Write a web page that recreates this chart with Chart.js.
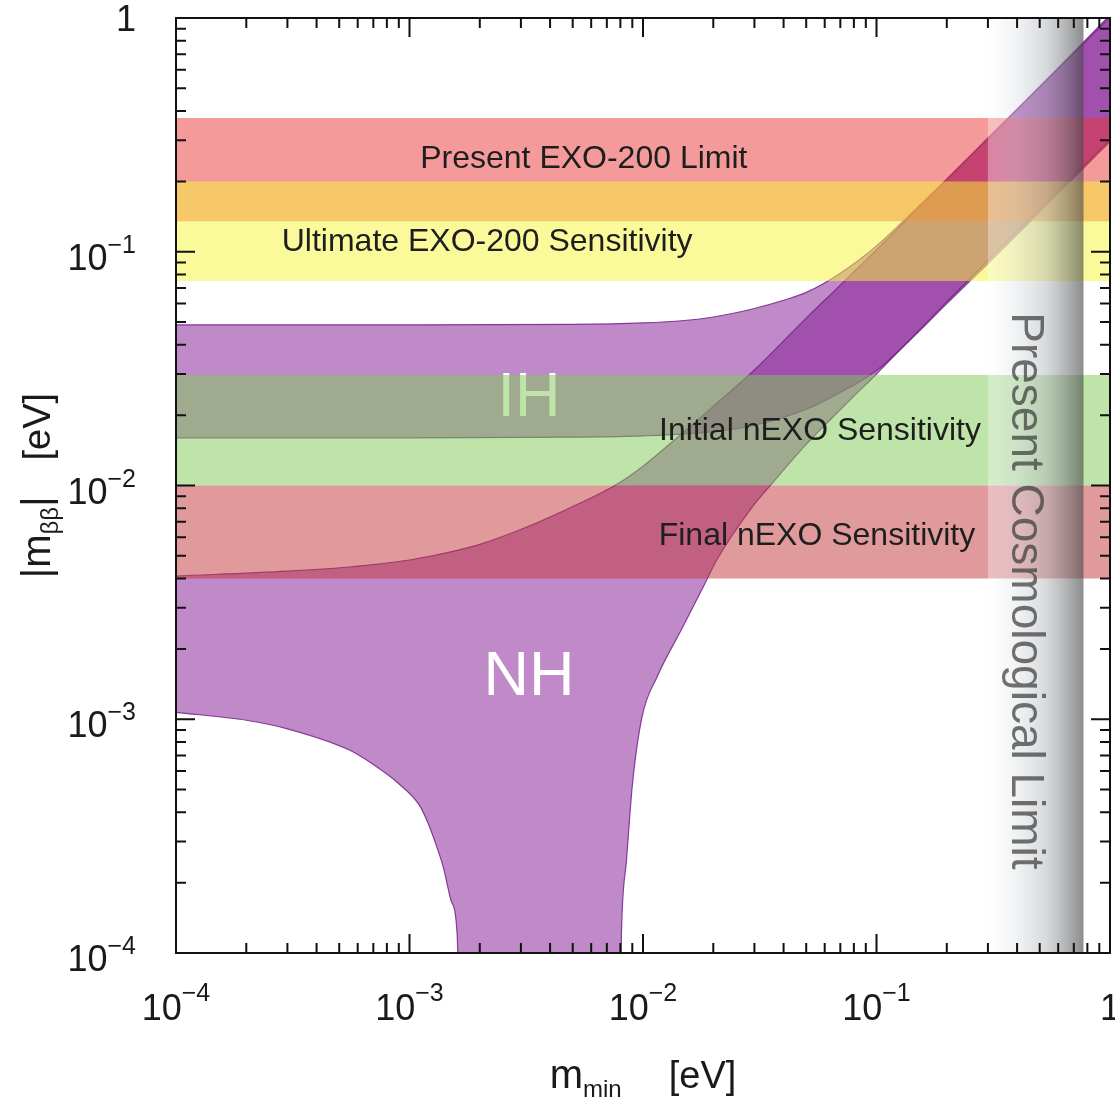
<!DOCTYPE html>
<html>
<head>
<meta charset="utf-8">
<title>nEXO sensitivity</title>
<script src="https://cdn.jsdelivr.net/npm/chart.js@4.4.1/dist/chart.umd.min.js"></script>
<style>
  html, body { margin: 0; padding: 0; background: #fff; }
  canvas { display: block; }
</style>
</head>
<body>
<canvas id="massChart" width="1115" height="1099"></canvas>
<script>
// values: m_min (eV) -> |m_bb| (eV)
const ihUpperM = [1e-4, 1e-3, 0.005, 0.01, 0.015, 0.02, 0.03, 0.04, 0.05, 0.07, 0.1, 0.15, 0.2, 0.3, 0.5, 0.7, 1.0];
const ihUpperV = [0.0487, 0.0487, 0.0489, 0.0496, 0.0508, 0.0526, 0.0572, 0.062, 0.067, 0.081, 0.106, 0.155, 0.205, 0.307, 0.51, 0.715, 1.03];
const ihLowerM = [1e-4, 1e-3, 0.005, 0.01, 0.02, 0.03, 0.05, 0.07, 0.1, 0.15, 0.2, 0.3, 0.5, 0.7, 1.0];
const ihLowerV = [0.016, 0.016, 0.0161, 0.0163, 0.017, 0.0181, 0.0212, 0.025, 0.031, 0.045, 0.06, 0.089, 0.148, 0.207, 0.296];

const nhUpperM = [1e-4, 3e-4, 5.5e-4, 1e-3, 1.5e-3, 2e-3, 2.9e-3, 4.7e-3, 7.7e-3, 0.01, 0.0148, 0.02, 0.03, 0.05, 0.07, 0.1, 0.2, 0.5, 1.0];
const nhUpperV = [0.0041, 0.0043, 0.00448, 0.0048, 0.0052, 0.0056, 0.0064, 0.0079, 0.0101, 0.0121, 0.0168, 0.0218, 0.0312, 0.052, 0.072, 0.102, 0.203, 0.505, 1.01];
// the lower edge drops through zero between the two branches
const nhLowerM = [1e-4, 2e-4, 3e-4, 5.5e-4, 7e-4, 9e-4, 1.1e-3, 1.2e-3, 1.3e-3, 1.4e-3, 1.5e-3, 1.6e-3, 1.64e-3,
                  7.95e-3, 8.1e-3, 8.5e-3, 9e-3, 0.0099, 0.0115, 0.0148, 0.0181, 0.0207, 0.0287, 0.036, 0.05, 0.077, 0.1, 0.2, 0.5, 1.0];
const nhLowerV = [0.00107, 0.00099, 0.00091, 0.00074, 0.00064, 0.00053, 0.00043, 0.00036, 0.00029, 0.00023, 0.00017, 0.00012, 0.00005,
                  0.00005, 0.00013, 0.00025, 0.00052, 0.00102, 0.00152, 0.00248, 0.00368, 0.0048, 0.00785, 0.0103, 0.015, 0.0232, 0.03, 0.061, 0.152, 0.302];

// experimental bands (eV)
const bandNames = ['Present EXO-200 Limit', 'Ultimate EXO-200 Sensitivity', 'Initial nEXO Sensitivity', 'Final nEXO Sensitivity'];
const bandLow = [0.135, 0.075, 0.010, 0.0040];
const bandHigh = [0.373, 0.200, 0.0297, 0.0100];
const cosmoLimit = [0.30, 0.77];

// axes
const axisMin = 1e-4;
const axisMax = 1;
const majorTicks = [1e-4, 1e-3, 1e-2, 1e-1, 1];
const minorSteps = [2, 3, 4, 5, 6, 7, 8, 9];
const tickLabels = [['10', '\u22124'], ['10', '\u22123'], ['10', '\u22122'], ['10', '\u22121'], ['1', '']];

const FONT = "'Liberation Sans', Arial, Helvetica, sans-serif";
const font = size => size + 'px ' + FONT;

function toPoints(ms, vs) {
    return ms.map((m, i) => ({x: m, y: vs[i]}));
}

function band(xa, xb, ya, yb) {
    return [{x: xa, y: ya}, {x: xb, y: ya}, {x: xb, y: yb}, {x: xa, y: yb}];
}

const minorTicks = [];
majorTicks.slice(0, -1).forEach(d => minorSteps.forEach(k => minorTicks.push(d * k)));

const bandColors = ['rgba(233,53,53,0.5)', 'rgba(247,245,53,0.5)', 'rgba(125,201,85,0.5)', 'rgba(193,53,57,0.5)'];
const bandOrder = [4, 3, 2, 1];
const purpleFill = 'rgba(130,22,146,0.5)';
const purpleEdge = 'rgba(115,35,135,0.85)';

function cosmoGradient(context) {
    const chart = context.chart;
    if (!chart.chartArea) return 'rgba(0,0,0,0)';
    const x0 = chart.scales.x.getPixelForValue(cosmoLimit[0]);
    const x1 = chart.scales.x.getPixelForValue(cosmoLimit[1]);
    const g = chart.ctx.createLinearGradient(x0, 0, x1, 0);
    g.addColorStop(0, 'rgba(255,255,255,0.35)');
    g.addColorStop(0.3, 'rgba(222,226,230,0.45)');
    g.addColorStop(0.6, 'rgba(178,183,188,0.5)');
    g.addColorStop(0.85, 'rgba(115,118,120,0.6)');
    g.addColorStop(1, 'rgba(70,70,70,0.62)');
    return g;
}

function edge(label, ms, vs, fill, order) {
    return {
        label: label,
        data: toPoints(ms, vs),
        borderColor: purpleEdge,
        backgroundColor: purpleFill,
        borderWidth: 1.2,
        cubicInterpolationMode: 'monotone',
        fill: fill,
        order: order
    };
}

const datasets = [{
    label: 'Present Cosmological Limit',
    data: band(cosmoLimit[0], cosmoLimit[1], axisMin, axisMax),
    backgroundColor: cosmoGradient,
    borderWidth: 0,
    fill: 'shape',
    order: 0
}];
bandNames.forEach((name, i) => {
    datasets.push({
        label: name,
        data: band(axisMin, axisMax, bandLow[i], bandHigh[i]),
        backgroundColor: bandColors[i],
        borderWidth: 0,
        fill: 'shape',
        order: bandOrder[i]
    });
});
datasets.push(edge('NH upper', nhUpperM, nhUpperV, '+1', 6));
datasets.push(edge('NH lower', nhLowerM, nhLowerV, false, 5));
datasets.push(edge('IH upper', ihUpperM, ihUpperV, '+1', 8));
datasets.push(edge('IH lower', ihLowerM, ihLowerV, false, 7));

const decorations = {
    id: 'decorations',
    beforeDraw(chart) {
        const ctx = chart.ctx;
        ctx.save();
        ctx.fillStyle = '#fff';
        ctx.fillRect(0, 0, chart.width, chart.height);
        ctx.restore();
    },
    afterDatasetDraw(chart, args) {
        // hierarchy names sit under the coloured bands
        if (chart.data.datasets[args.index].label !== 'NH lower') return;
        const {ctx, scales: {x, y}} = chart;
        ctx.save();
        ctx.fillStyle = '#fff';
        ctx.font = font(63);
        ctx.textAlign = 'center';
        ctx.fillText('IH', x.getPixelForValue(3.25e-3), y.getPixelForValue(0.0198));
        ctx.fillText('NH', x.getPixelForValue(3.25e-3), y.getPixelForValue(1.27e-3));
        ctx.restore();
    },
    afterDatasetsDraw(chart) {
        const {ctx, chartArea: area, scales: {x, y}} = chart;
        ctx.save();

        // band captions
        const captionPos = [[5.58e-3, 0.228], [2.15e-3, 0.1007], [0.0573, 0.01567], [0.0556, 5.56e-3]];
        ctx.fillStyle = '#1e1e1e';
        ctx.font = font(32);
        ctx.textAlign = 'center';
        bandNames.forEach((name, i) => {
            ctx.fillText(name, x.getPixelForValue(captionPos[i][0]), y.getPixelForValue(captionPos[i][1]));
        });

        // cosmological limit caption, rotated
        ctx.save();
        ctx.translate(x.getPixelForValue(0.38), y.getPixelForValue(3.54e-3));
        ctx.rotate(Math.PI / 2);
        ctx.fillStyle = 'rgba(60,60,60,0.72)';
        ctx.font = font(46);
        ctx.textAlign = 'center';
        ctx.textBaseline = 'alphabetic';
        ctx.fillText('Present Cosmological Limit', 0, 0);
        ctx.restore();

        // frame
        ctx.strokeStyle = '#111';
        ctx.lineWidth = 2;
        ctx.strokeRect(area.left, area.top, area.right - area.left, area.bottom - area.top);

        // inward ticks on all four sides
        const drawTicks = (values, len) => {
            ctx.beginPath();
            values.forEach(v => {
                const px = x.getPixelForValue(v);
                ctx.moveTo(px, area.bottom); ctx.lineTo(px, area.bottom - len);
                ctx.moveTo(px, area.top); ctx.lineTo(px, area.top + len);
                const py = y.getPixelForValue(v);
                ctx.moveTo(area.left, py); ctx.lineTo(area.left + len, py);
                ctx.moveTo(area.right, py); ctx.lineTo(area.right - len, py);
            });
            ctx.stroke();
        };
        drawTicks(majorTicks, 19);
        drawTicks(minorTicks, 10);

        // tick labels
        ctx.fillStyle = '#1a1a1a';
        ctx.textAlign = 'left';
        tickLabels.forEach(([base, exp], i) => {
            ctx.font = font(36);
            const wb = ctx.measureText(base).width;
            ctx.font = font(25);
            const we = exp ? ctx.measureText(exp).width : 0;

            const px = x.getPixelForValue(majorTicks[i]);
            const sx = px - (wb + we) / 2;
            ctx.font = font(36);
            ctx.fillText(base, sx, area.bottom + 67);
            if (exp) {
                ctx.font = font(25);
                ctx.fillText(exp, sx + wb, area.bottom + 48);
            }

            const py = y.getPixelForValue(majorTicks[i]);
            const ex = area.left - 40;
            ctx.font = font(36);
            if (exp) {
                ctx.fillText(base, ex - we - wb, py + 18);
                ctx.font = font(25);
                ctx.fillText(exp, ex - we, py + 1);
            } else {
                ctx.fillText(base, ex - wb, py + 13);
            }
        });

        // axis titles
        const titleParts = (parts, cx, baseline) => {
            let total = 0;
            parts.forEach(p => { ctx.font = font(p.size); p.w = ctx.measureText(p.text).width; total += p.w + (p.gap || 0); });
            let pos = cx - total / 2;
            parts.forEach(p => {
                ctx.font = font(p.size);
                ctx.fillText(p.text, pos, baseline + (p.dy || 0));
                pos += p.w + (p.gap || 0);
            });
        };
        ctx.fillStyle = '#1a1a1a';
        titleParts([
            {text: 'm', size: 40},
            {text: 'min', size: 24, dy: 9, gap: 47},
            {text: '[eV]', size: 38}
        ], (area.left + area.right) / 2, 1088);

        ctx.save();
        ctx.translate(50, (area.top + area.bottom) / 2);
        ctx.rotate(-Math.PI / 2);
        titleParts([
            {text: '|m', size: 40},
            {text: '\u03b2\u03b2', size: 24, dy: 8},
            {text: '|', size: 40, gap: 36},
            {text: '[eV]', size: 38}
        ], 0, 0);
        ctx.restore();

        ctx.restore();
    }
};

const massChart = new Chart(document.getElementById('massChart').getContext('2d'), {
    type: 'line',
    data: { datasets: datasets },
    options: {
        responsive: false,
        devicePixelRatio: 1,
        animation: false,
        events: [],
        layout: { padding: { left: 176, right: 5, top: 18, bottom: 146 } },
        elements: {
            point: { radius: 0 },
            line: { tension: 0, capBezierPoints: false }
        },
        scales: {
            x: { type: 'logarithmic', position: 'bottom', min: axisMin, max: axisMax, display: false },
            y: { type: 'logarithmic', position: 'left', min: axisMin, max: axisMax, display: false }
        },
        plugins: {
            legend: { display: false },
            tooltip: { enabled: false }
        }
    },
    plugins: [decorations]
});
</script>
</body>
</html>
